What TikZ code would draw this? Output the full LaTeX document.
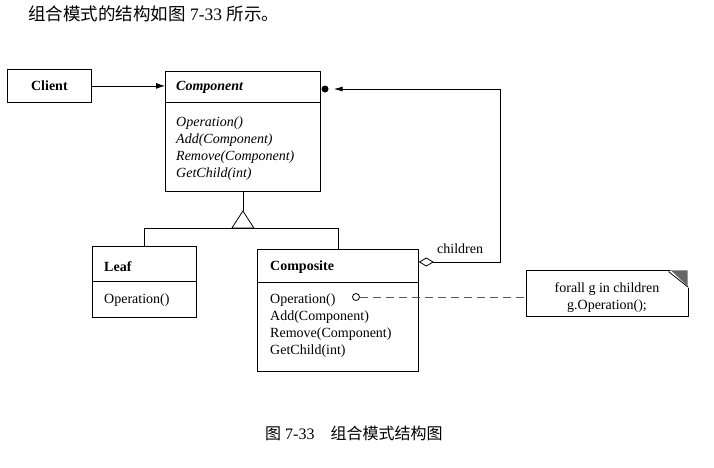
\documentclass[tikz,border=0pt]{standalone}
\usepackage{fontspec}
\setmainfont{Liberation Serif}
\newfontfamily\cjk{Noto Sans CJK SC}
\usetikzlibrary{arrows.meta}
\tikzset{
  box/.style={draw, line width=0.8pt, rectangle, anchor=north west, inner sep=0pt},
  txt/.style={anchor=base west, inner sep=0pt, font=\fontsize{14}{17}\selectfont},
  ttl/.style={txt, font=\fontsize{14}{17}\selectfont\bfseries},
  ittl/.style={txt, font=\fontsize{14}{17}\selectfont\bfseries\itshape},
  iop/.style={txt, font=\fontsize{14}{17}\selectfont\itshape},
  ln/.style={line width=0.8pt},
}
\begin{document}
\begin{tikzpicture}[x=1pt,y=-1pt]
\useasboundingbox[fill=white] (0,0) rectangle (714,467);
% header
\node[anchor=base west, inner sep=0pt, font=\fontsize{17.5}{20}\selectfont] (hdr) at (28,20) {{\cjk 组合模式的结构如图} 7-33 {\cjk 所示。}};
% Client
\node[box, minimum width=84pt, minimum height=33pt] (client) at (7,69) {};
\node[ttl, anchor=center] (clientt) at (client.center) {Client};
% Component
\node[box, minimum width=155pt, minimum height=120pt] (comp) at (165,71) {};
\draw[ln] (165,102) -- (320,102);
\node[ittl] (compt) at (176,90) {Component};
\node[iop] (c1) at (176,126) {Operation()};
\node[iop] (c2) at (176,143) {Add(Component)};
\node[iop] (c3) at (176,160) {Remove(Component)};
\node[iop] (c4) at (176,177) {GetChild(int)};
% Leaf
\node[box, minimum width=104pt, minimum height=71pt] (leaf) at (92,246) {};
\draw[ln] (92,281) -- (196,281);
\node[ttl] (leaft) at (104,271) {Leaf};
\node[txt] (l1) at (104,303) {Operation()};
% Composite
\node[box, minimum width=161pt, minimum height=122pt] (compo) at (257,249) {};
\draw[ln] (257,282) -- (418,282);
\node[ttl] (compot) at (270,270) {Composite};
\node[txt] (p1) at (270,303) {Operation()};
\node[txt] (p2) at (270,320) {Add(Component)};
\node[txt] (p3) at (270,337) {Remove(Component)};
\node[txt] (p4) at (270,354) {GetChild(int)};
% Note
\node[box, minimum width=162pt, minimum height=46pt] (note) at (526,270) {};
\fill[white] (669,269) -- (689,269) -- (689,288) -- cycle;
\fill[gray!80!black] (671,270.4) -- (687.6,270.4) -- (687.6,286) -- cycle;
\draw[ln] (669,270) -- (669,272) -- (688,287);
\node[txt, anchor=base] (n1) at (607,292) {forall g in children};
\node[txt, anchor=base] (n2) at (607,309) {g.Operation();};
% Client -> Component
\draw[ln, -{Latex[length=9pt,width=6pt]}] (client.east) -- (client.east -| comp.west);
% aggregation
\node[circle, fill=black, inner sep=0pt, minimum size=7pt] (dot) at (325,89) {};
\coordinate (agr) at (500,89);
\draw[ln, {Diamond[open,length=15pt,width=9pt]}-{Latex[length=9pt,width=5pt]}, shorten >=5pt]
  (compo.east |- 0,262) -| (agr) -- (dot.east);
\node[txt] (chl) at (437,253) {children};
% inheritance
\coordinate (tri) at (comp.south |- 0,211);
\draw[ln] (comp.south) -- (tri);
\draw[ln] (tri) -- ++(-11,17) -- ++(22,0) -- cycle;
\draw[ln] (leaf.north |- 0,228) -- (compo.north |- 0,228);
\draw[ln] (leaf.north |- 0,228) -- (leaf.north);
\draw[ln] (compo.north |- 0,228) -- (compo.north);
% note link
\node[circle, draw, line width=0.8pt, inner sep=0pt, minimum size=7pt, fill=white] (oc) at (356,297) {};
\draw[ln, dashed, dash pattern=on 8pt off 5pt, gray!70!black] (oc.east) -- (oc.east -| note.west);
% caption
\node[anchor=base west, inner sep=0pt, font=\fontsize{16}{19}\selectfont] (cap) at (265,439) {{\cjk 图} 7-33\hspace{16pt}{\cjk 组合模式结构图}};
\end{tikzpicture}
\end{document}
